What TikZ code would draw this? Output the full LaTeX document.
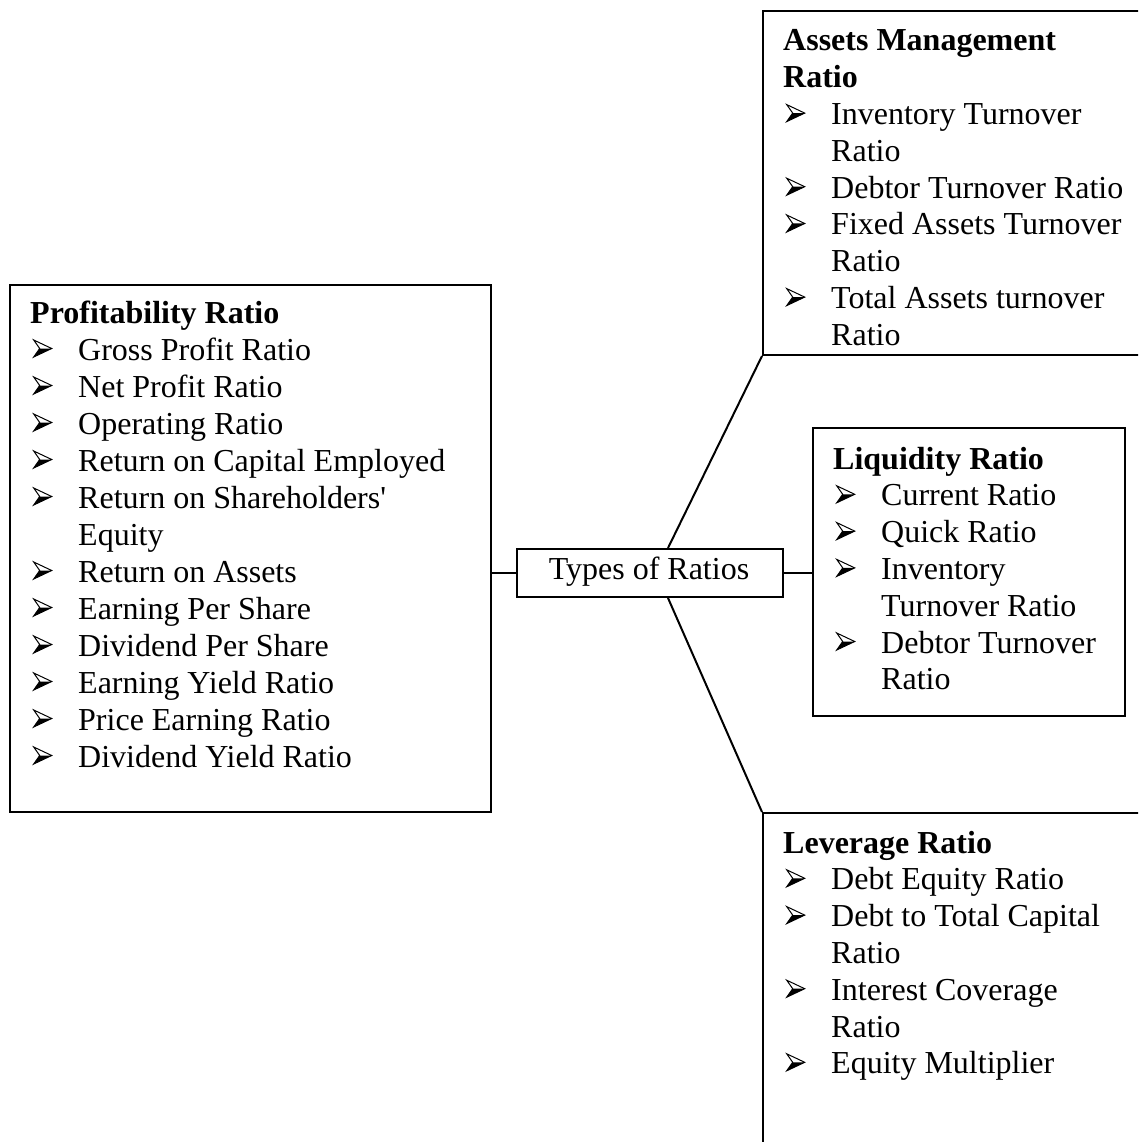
\documentclass[tikz,border=0pt]{standalone}
\usepackage{fontspec}
\setmainfont{Liberation Serif}

% 3-D arrowhead bullet: light upper half, dark lower half
\newcommand\bul{\makebox[48pt][l]{\hspace*{3pt}\tikz[baseline=0pt,x=1pt,y=1pt]{%
  \fill[black] (18,11.5) -- (0,3) -- (6,11.5) -- cycle;
  \draw[line width=1pt,line join=miter] (0,20) -- (18,11.5) -- (0,3) -- (6,11.5) -- cycle;}}}
\newcommand\hd[1]{\hbox{\bfseries #1}}
\newcommand\entry[1]{\hbox{\bul #1}}
\newcommand\more[1]{\hbox{\hspace*{48pt}#1}}

\begin{document}
\begin{tikzpicture}[x=1pt,y=1pt,
  frame/.style={draw, line width=2pt, inner sep=0pt, anchor=north west},
  link/.style={line width=2pt},
  listtext/.style={inner sep=0pt, anchor=base west, align=left,
    font=\fontsize{32}{36.8}\selectfont}]
\useasboundingbox (0,0) rectangle (1138,-1142);
\clip (0,0) rectangle (1138,-1142);

% boxes
\node[frame, minimum width=481, minimum height=527] (left) at (9,-284) {};
\node[frame, minimum width=266, minimum height=48] (types) at (516,-548) {};
\node[frame, minimum width=420, minimum height=344] (assets) at (762,-10) {};
\node[frame, minimum width=312, minimum height=288] (liq) at (812,-427) {};
\node[frame, minimum width=420, minimum height=360] (lev) at (762,-812) {};

% centre label
\node[inner sep=0pt, anchor=base, font=\fontsize{32}{36.8}\selectfont] (typestext)
  at (649,-579) {Types of Ratios};

% lists
\node[listtext, font=\fontsize{32}{37}\selectfont] (lefttext) at (30,-323) {\vtop{%
  \hd{Profitability Ratio}
  \entry{Gross Profit Ratio}
  \entry{Net Profit Ratio}
  \entry{Operating Ratio}
  \entry{Return on Capital Employed}
  \entry{Return on Shareholders\textquotesingle}
  \more{Equity}
  \entry{Return on Assets}
  \entry{Earning Per Share}
  \entry{Dividend Per Share}
  \entry{Earning Yield Ratio}
  \entry{Price Earning Ratio}
  \entry{Dividend Yield Ratio}}};

\node[listtext] (assetstext) at (783,-51) {\vtop{%
  \hd{Assets Management}
  \hd{Ratio}
  \entry{Inventory Turnover}
  \more{Ratio}
  \entry{Debtor Turnover Ratio}
  \entry{Fixed Assets Turnover}
  \more{Ratio}
  \entry{Total Assets turnover}
  \more{Ratio}}};

\node[listtext] (liqtext) at (833,-469) {\vtop{%
  \hd{Liquidity Ratio}
  \entry{Current Ratio}
  \entry{Quick Ratio}
  \entry{Inventory}
  \more{Turnover Ratio}
  \entry{Debtor Turnover}
  \more{Ratio}}};

\node[listtext] (levtext) at (783,-853) {\vtop{%
  \hd{Leverage Ratio}
  \entry{Debt Equity Ratio}
  \entry{Debt to Total Capital}
  \more{Ratio}
  \entry{Interest Coverage}
  \more{Ratio}
  \entry{Equity Multiplier}}};

% connectors
\draw[link] (types.west -| left.east) -- (types.west);
\draw[link] (types.east) -- (types.east -| liq.west);
\draw[link] ([xshift=18pt]types.north) -- (assets.south west);
\draw[link] ([xshift=18pt]types.south) -- (lev.north west);
\end{tikzpicture}
\end{document}
